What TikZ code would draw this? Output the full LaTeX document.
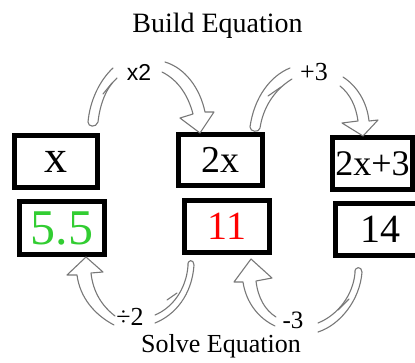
\documentclass[tikz,border=0pt]{standalone}
\usepackage{fontspec}
\setmainfont{Liberation Serif}
\setsansfont{Liberation Sans}
\definecolor{numgreen}{RGB}{50,205,50}
\definecolor{arrgray}{RGB}{120,120,120}
\begin{document}
\begin{tikzpicture}[x=1pt,y=-1pt,
  box/.style={draw=black,line width=5pt,fill=white,inner sep=0pt},
  arr/.style={draw=arrgray,line width=1.1pt,line join=round,line cap=round},
  lab/.style={inner sep=0pt,anchor=base}]
\useasboundingbox (0,0) rectangle (415,362);
% boxes
\node[box,minimum width=83pt,minimum height=52pt,font=\fontsize{46}{46}\selectfont] (bx) at (56,161.5) {x};
\node[box,minimum width=84pt,minimum height=51pt,font=\fontsize{38}{38}\selectfont] (b2x) at (220.5,160) {2x};
\node[box,minimum width=80pt,minimum height=52pt,font=\fontsize{36}{36}\selectfont] (b2x3) at (372.5,163.5) {2x+3};
\node[box,minimum width=85pt,minimum height=53pt,font=\fontsize{50}{50}\selectfont,text=numgreen] (b55) at (62,228) {5.5};
\node[box,minimum width=85pt,minimum height=52pt,font=\fontsize{40}{40}\selectfont,text=red] (b11) at (227,226.5) {11};
\node[box,minimum width=89pt,minimum height=52pt,font=\fontsize{40}{40}\selectfont] (b14) at (380,229.5) {14};
% titles
\node[lab,font=\fontsize{28}{28}\selectfont] (build) at (217.5,32) {Build Equation};
\node[lab,font=\fontsize{26}{26}\selectfont] (solve) at (221,352) {Solve Equation};
% labels
\node[lab,font=\sffamily\fontsize{23}{23}\selectfont] (lx2) at (139,80) {x2};
\node[lab,font=\fontsize{26}{26}\selectfont] (lp3) at (314,80) {+3};
\node[lab,font=\fontsize{26}{26}\selectfont] (ld2) at (130,325) {÷2};
\node[lab,font=\fontsize{25}{25}\selectfont] (lm3) at (293,328) {-3};
% arrow x2
\draw[arr] (113,68) .. controls (100,80) and (90,100) .. (88,122) .. controls (88,127) and (96,128) .. (98,122) .. controls (100,104) and (106,88) .. (117,78);
\draw[arr] (103,94) -- (112,83);
\draw[arr] (165,62) .. controls (185,68) and (200,88) .. (205,112) -- (214,112) -- (200,133) -- (180,118) -- (193,114) .. controls (188,95) and (178,80) .. (162,72);
% arrow +3
\draw[arr] (290,68) .. controls (270,76) and (254,98) .. (250,127) .. controls (250,132) and (259,133) .. (260,128) .. controls (263,108) and (274,90) .. (292,79);
\draw[arr] (268,96) -- (281,87);
\draw[arr] (343,77) .. controls (357,86) and (367,102) .. (369,121) -- (378,120) -- (363,136) -- (342,123) -- (358,121) .. controls (356,106) and (350,94) .. (340,86);
% arrow ÷2
\draw[arr] (114,325) .. controls (95,315) and (80,298) .. (77,275) -- (67,275) -- (86,257) -- (103,272) -- (91,273) .. controls (93,292) and (102,306) .. (115,316);
\draw[arr] (155,323) .. controls (175,315) and (192,295) .. (194,265) .. controls (194,259) and (187,259) .. (188,266) .. controls (186,290) and (172,308) .. (155,315);
\draw[arr] (167,300) -- (177,293);
% arrow -3
\draw[arr] (275,326) .. controls (258,318) and (246,302) .. (243,282) -- (234,282) -- (251,259) -- (272,278) -- (256,281) .. controls (258,298) and (265,310) .. (276,317);
\draw[arr] (318,332) .. controls (340,325) and (360,300) .. (362,272) .. controls (362,266) and (354,266) .. (355,273) .. controls (353,295) and (338,315) .. (318,323);
\draw[arr] (338,310) -- (349,299);
\end{tikzpicture}
\end{document}
